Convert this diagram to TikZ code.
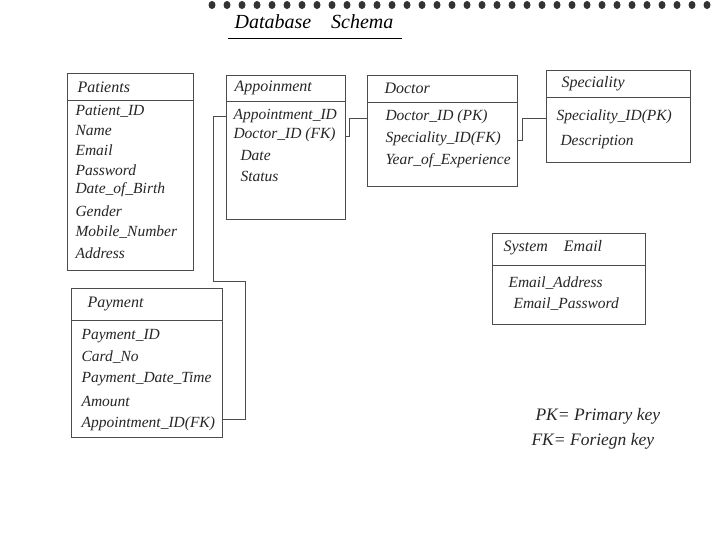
\documentclass[tikz,border=0pt]{standalone}
\usepackage{fontspec}
\setmainfont{Liberation Serif}
\begin{document}
\begin{tikzpicture}[x=1pt,y=-1pt,
  tbl/.style={draw=black!70, line width=0.8pt, anchor=north west, inner sep=0pt},
  hdr/.style={anchor=west, font=\fontsize{16}{18}\selectfont\itshape, text=black!85},
  fld/.style={anchor=west, font=\fontsize{15.5}{17}\selectfont\itshape, text=black!85},
  leg/.style={anchor=west, font=\fontsize{17.5}{19}\selectfont\itshape, text=black!85},
  conn/.style={draw=black!70, line width=0.7pt}]
\useasboundingbox (0,0) rectangle (720,558);
\fill[white] (0,0) rectangle (720,558);
% binding dots
\foreach \i in {0,...,33} { \fill[black!80] (212+15*\i,5) ellipse (3.5 and 4); }
% title
\node[font=\fontsize{20}{22}\selectfont\itshape] (title) at (314,22) {Database\quad Schema};
\draw[line width=0.8pt] (228,38) -- (402,38);

% Patients
\node[tbl, minimum width=126pt, minimum height=197pt] (pat) at (67,73) {};
\draw[conn] (67,100) -- (193,100);
\node[hdr] (path) at (74,87) {Patients};
\node[fld] (p1) at (72,111) {Patient\_ID};
\node[fld] (p2) at (72,130) {Name};
\node[fld] (p3) at (72,150) {Email};
\node[fld] (p4) at (72,170) {Password};
\node[fld] (p5) at (72,190) {Date\_of\_Birth};
\node[fld] (p6) at (72,211) {Gender};
\node[fld] (p7) at (72,232) {Mobile\_Number};
\node[fld] (p8) at (72,253) {Address};

% Appointment
\node[tbl, minimum width=119pt, minimum height=144pt] (apt) at (226,75) {};
\draw[conn] (226,101) -- (345,101);
\node[hdr] (apth) at (231,88) {Appoinment};
\node[fld] (a1) at (230,116) {Appointment\_ID};
\node[fld] (a2) at (230,135) {Doctor\_ID (FK)};
\node[fld] (a3) at (237,155) {Date};
\node[fld] (a4) at (237,176) {Status};

% Doctor
\node[tbl, minimum width=150pt, minimum height=111pt] (doc) at (367,75) {};
\draw[conn] (367,102) -- (517,102);
\node[hdr] (doch) at (381,88) {Doctor};
\node[fld] (d1) at (382,117) {Doctor\_ID (PK)};
\node[fld] (d2) at (382,139) {Speciality\_ID(FK)};
\node[fld] (d3) at (382,161) {Year\_of\_Experience};

% Speciality
\node[tbl, minimum width=144pt, minimum height=92pt] (spe) at (546,70) {};
\draw[conn] (546,97) -- (690,97);
\node[hdr] (speh) at (558,84) {Speciality};
\node[fld] (s1) at (553,117) {Speciality\_ID(PK)};
\node[fld] (s2) at (557,142) {Description};

% System Email
\node[tbl, minimum width=153pt, minimum height=91pt] (sys) at (492,233) {};
\draw[conn] (492,265) -- (645,265);
\node[hdr] (sysh) at (500,248) {System\quad Email};
\node[fld] (e1) at (505,283) {Email\_Address};
\node[fld] (e2) at (510,304) {Email\_Password};

% Payment
\node[tbl, minimum width=151pt, minimum height=149pt] (pay) at (71,288) {};
\draw[conn] (71,320) -- (222,320);
\node[hdr] (payh) at (84,304) {Payment};
\node[fld] (y1) at (78,336) {Payment\_ID};
\node[fld] (y2) at (78,357) {Card\_No};
\node[fld] (y3) at (78,379) {Payment\_Date\_Time};
\node[fld] (y4) at (78,401) {Amount};
\node[fld] (y5) at (78,424) {Appointment\_ID(FK)};

% connectors
\coordinate (c1) at (213,116);
\coordinate (c2) at (213,281);
\coordinate (c3) at (245,281);
\coordinate (c4) at (245,419);
\draw[conn] (apt.west |- a1) -- (c1) -- (c2) -- (c3) -- (c4) -- (pay.east |- c4);
\coordinate (c5) at (349,136);
\coordinate (c6) at (349,118);
\draw[conn] (apt.east |- c5) -- (c5) -- (c6) -- (doc.west |- c6);
\coordinate (c7) at (522,140);
\coordinate (c8) at (522,118);
\draw[conn] (doc.east |- c7) -- (c7) -- (c8) -- (spe.west |- c8);

% legend
\node[leg] (l1) at (532,416) {PK= Primary key};
\node[leg] (l2) at (528,441) {FK= Foriegn key};
\end{tikzpicture}
\end{document}
